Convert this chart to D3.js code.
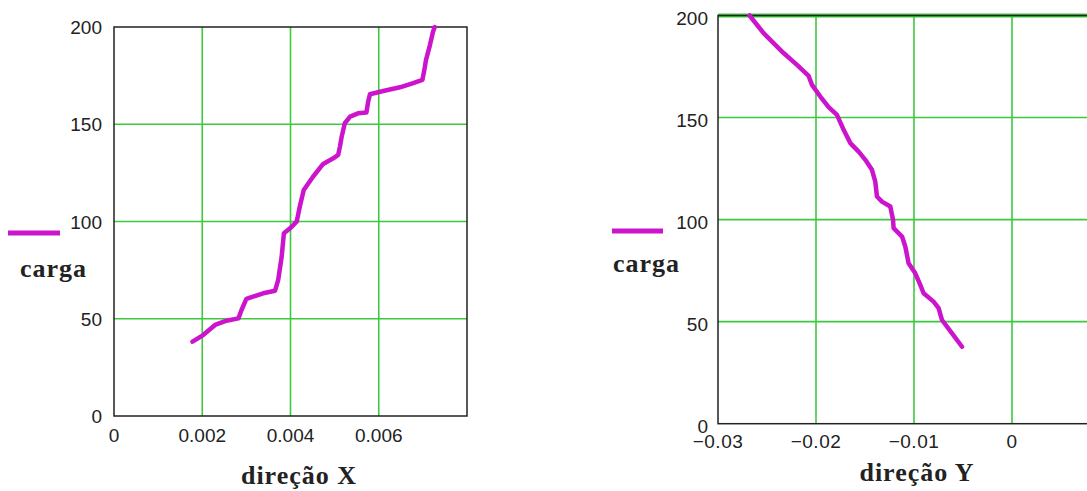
<!DOCTYPE html>
<html>
<head>
<meta charset="utf-8">
<script src="https://cdn.jsdelivr.net/npm/d3@7"></script>
<style>
  html, body { margin: 0; padding: 0; background: #fff; }
  svg { display: block; }
  .tick-label { font-family: "Liberation Sans", Arial, sans-serif; font-size: 19px; fill: #222; }
  .axis-title { font-family: "Liberation Serif", "Times New Roman", serif; font-size: 26px; font-weight: bold; fill: #222; letter-spacing: 1px; }
</style>
</head>
<body>
<svg id="chart" width="1087" height="491"></svg>
<script>
// Load (carga) versus displacement in the X direction
const dirX = [0.00178, 0.00202, 0.00229, 0.00255, 0.00282, 0.00289, 0.00300, 0.00338, 0.00365, 0.00372,
              0.00380, 0.00385, 0.00399, 0.00414, 0.00421, 0.00430, 0.00451, 0.00474, 0.00497, 0.00508,
              0.00512, 0.00516, 0.00523, 0.00535, 0.00553, 0.00572, 0.00576, 0.00580, 0.00610, 0.00648,
              0.00678, 0.00699, 0.00704, 0.00707, 0.00716, 0.00723, 0.00727];
const cargaX = [38.2, 41.6, 46.8, 49.0, 50.2, 54.5, 60.2, 63.1, 64.4, 69.9,
                81.9, 93.9, 96.5, 99.9, 107.6, 116.2, 123.0, 129.6, 132.5, 134.2,
                138.5, 143.6, 150.5, 153.9, 155.6, 156.0, 161.6, 165.4, 167.1, 169.0,
                171.1, 172.8, 178.8, 183.0, 190.7, 197.6, 200.0];

// Load (carga) versus displacement in the Y direction
const dirY = [-0.02678, -0.02535, -0.02331, -0.02194, -0.02075, -0.02041, -0.01956, -0.01871, -0.01786, -0.01718,
              -0.01650, -0.01565, -0.01497, -0.01429, -0.01395, -0.01378, -0.01327, -0.01242, -0.01214, -0.01208,
              -0.01122, -0.01089, -0.01055, -0.00987, -0.00936, -0.00902, -0.00800, -0.00749, -0.00714, -0.00612,
              -0.00510];
const cargaY = [200.0, 191.4, 181.6, 175.8, 170.4, 166.0, 160.3, 155.1, 151.3, 144.0,
                137.5, 133.3, 129.3, 124.4, 118.6, 111.3, 108.8, 106.4, 99.9, 95.8,
                91.7, 86.8, 78.6, 73.7, 68.0, 63.9, 59.8, 56.6, 50.8, 44.3,
                37.7];

// Axis ticks
const loadTicks = [0, 50, 100, 150, 200];
const loadTickLabels = ["0", "50", "100", "150", "200"];
const xTicks = [0, 0.002, 0.004, 0.006];
const xTickLabels = ["0", "0.002", "0.004", "0.006"];
const yTicks = [-0.03, -0.02, -0.01, 0];
const yTickLabels = ["\u22120.03", "\u22120.02", "\u22120.01", "0"];

const GRID = "#3ec83e";
const CURVE = "#cc14cc";
const FRAME = "#222";

const svg = d3.select("#chart");

function panel(opt) {
  const g = svg.append("g");
  const x = d3.scaleLinear().domain(opt.xDomain).range([opt.left, opt.right]);
  const y = d3.scaleLinear().domain([0, 200]).range([opt.bottom, opt.top]);

  // grid
  g.selectAll(".vgrid").data(opt.xGrid).join("line")
    .attr("x1", d => x(d)).attr("x2", d => x(d))
    .attr("y1", y(0)).attr("y2", y(200))
    .attr("stroke", GRID).attr("stroke-width", 1.6);
  g.selectAll(".hgrid").data(opt.yGrid).join("line")
    .attr("x1", x(opt.xDomain[0])).attr("x2", x(opt.xDomain[1]))
    .attr("y1", d => y(d)).attr("y2", d => y(d))
    .attr("stroke", GRID)
    .attr("stroke-width", d => (d === 200 ? 4 : 1.6));

  // frame
  g.append("rect")
    .attr("x", x(opt.xDomain[0])).attr("y", y(200))
    .attr("width", x(opt.xDomain[1]) - x(opt.xDomain[0]))
    .attr("height", y(0) - y(200))
    .attr("fill", "none").attr("stroke", FRAME).attr("stroke-width", 1.5);

  // curve
  const pts = opt.xs.map((v, i) => [v, opt.loads[i]]);
  g.append("path")
    .datum(pts)
    .attr("d", d3.line().x(d => x(d[0])).y(d => y(d[1])))
    .attr("fill", "none").attr("stroke", CURVE)
    .attr("stroke-width", 4.5)
    .attr("stroke-linejoin", "round").attr("stroke-linecap", "round");

  // x tick labels
  g.selectAll(".xt").data(opt.xTicks).join("text")
    .attr("class", "tick-label")
    .attr("x", d => x(d)).attr("y", opt.xLabelBaseline)
    .attr("text-anchor", "middle")
    .style("letter-spacing", opt.xLetterSpacing)
    .text((d, i) => opt.xTickLabels[i]);

  // y tick labels
  g.selectAll(".yt").data(loadTicks).join("text")
    .attr("class", "tick-label")
    .attr("x", opt.yLabelRight).attr("y", d => y(d) + opt.yLabelShift)
    .attr("text-anchor", "end")
    .text((d, i) => loadTickLabels[i]);

  // legend
  g.append("line")
    .attr("x1", opt.legend.x1).attr("x2", opt.legend.x2)
    .attr("y1", opt.legend.y).attr("y2", opt.legend.y)
    .attr("stroke", CURVE).attr("stroke-width", 5);
  g.append("text")
    .attr("class", "axis-title")
    .attr("x", opt.legend.tx).attr("y", opt.legend.ty)
    .text("carga");

  // axis title
  g.append("text")
    .attr("class", "axis-title")
    .attr("x", opt.title.x).attr("y", opt.title.y)
    .attr("text-anchor", "middle")
    .text(opt.title.text);
}

panel({
  xDomain: [0, 0.008], left: 114, right: 467, top: 27, bottom: 416,
  xGrid: [0.002, 0.004, 0.006], yGrid: [50, 100, 150],
  xs: dirX, loads: cargaX,
  xTicks: xTicks, xTickLabels: xTickLabels, xLabelBaseline: 442, xLetterSpacing: "0px",
  yLabelRight: 102, yLabelShift: 7,
  legend: { x1: 8, x2: 60, y: 233, tx: 20, ty: 277 },
  title: { x: 299, y: 484, text: "direção X" }
});

panel({
  xDomain: [-0.03, 0.01], left: 718, right: 1110, top: 15.5, bottom: 423.7,
  xGrid: [-0.02, -0.01, 0], yGrid: [50, 100, 150, 200],
  xs: dirY, loads: cargaY,
  xTicks: yTicks, xTickLabels: yTickLabels, xLabelBaseline: 448, xLetterSpacing: "0.5px",
  yLabelRight: 708, yLabelShift: 9,
  legend: { x1: 612, x2: 663, y: 231, tx: 613, ty: 272 },
  title: { x: 917, y: 481, text: "direção Y" }
});
</script>
</body>
</html>
